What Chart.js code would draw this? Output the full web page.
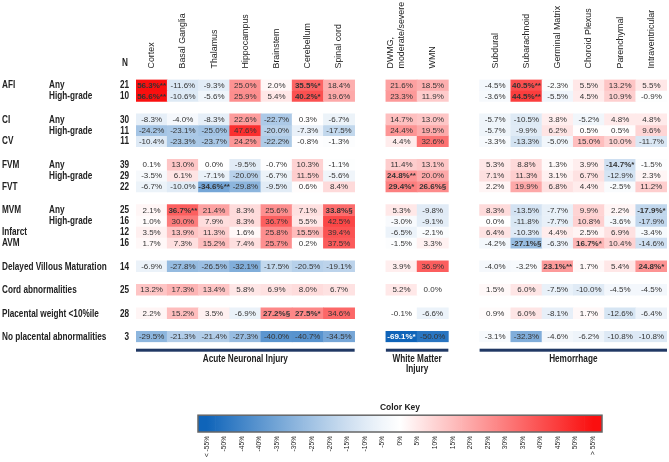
<!DOCTYPE html>
<html>
<head>
<meta charset="utf-8">
<script src="https://cdn.jsdelivr.net/npm/chart.js@4.4.1/dist/chart.umd.min.js"></script>
<style>
  html, body { margin: 0; padding: 0; background: #fff; }
  #wrap { position: relative; width: 669px; height: 462px; overflow: hidden; }
  #heat { position: absolute; left: 0; top: 0; }
  #key { position: absolute; left: 0; top: 395px; }
</style>
</head>
<body>
<div id="wrap">
  <canvas id="heat" width="669" height="395"></canvas>
  <canvas id="key" width="669" height="67"></canvas>
</div>
<script>
// colunas (rótulos do cabeçalho)
const acuteCols = ['Cortex', 'Basal Ganglia', 'Thalamus', 'Hippocampus', 'Brainstem', 'Cerebellum', 'Spinal cord'];
const whiteCols = ['DWMG', 'WMN'];
const hemCols = ['Subdural', 'Subarachnoid', 'Germinal Matrix', 'Choroid Plexus', 'Parenchymal', 'Intraventricular'];

// linhas
const rowGroups = ['AFI', '', 'CI', '', 'CV', 'FVM', '', 'FVT', 'MVM', '', 'Infarct', 'AVM',
  'Delayed Villous Maturation', 'Cord abnormalities', 'Placental weight <10%ile', 'No placental abnormalities'];
const rowSubs = ['Any', 'High-grade', 'Any', 'High-grade', '', 'Any', 'High-grade', '', 'Any', 'High-grade',
  '', '', '', '', '', ''];
const rowN = [21, 10, 30, 11, 11, 39, 29, 22, 25, 16, 12, 16, 14, 25, 28, 3];
const rowBlock = [0, 0, 1, 1, 1, 2, 2, 2, 3, 3, 3, 3, 4, 5, 6, 7];

// valores (%)
const acuteVals = [
  [56.3, -11.6, -9.3, 25.0, 2.0, 35.5, 18.4],
  [56.6, -10.6, -5.6, 25.9, 5.4, 40.2, 19.6],
  [-8.3, -4.0, -8.3, 22.6, -22.7, 0.3, -6.7],
  [-24.2, -23.1, -25.0, 47.6, -20.0, -7.3, -17.5],
  [-10.4, -23.3, -23.7, 24.2, -22.2, -0.8, -1.3],
  [0.1, 13.0, 0.0, -9.5, -0.7, 10.3, -1.1],
  [-3.5, 6.1, -7.1, -20.0, -6.7, 11.5, -5.6],
  [-6.7, -10.0, -34.6, -29.8, -9.5, 0.6, 8.4],
  [2.1, 36.7, 21.4, 8.3, 25.6, 7.1, 33.8],
  [1.0, 30.0, 7.9, 8.3, 36.7, 5.5, 42.5],
  [3.5, 13.9, 11.3, 1.6, 25.8, 15.5, 39.4],
  [1.7, 7.3, 15.2, 7.4, 25.7, 0.2, 37.5],
  [-6.9, -27.8, -26.5, -32.1, -17.5, -20.5, -19.1],
  [13.2, 17.3, 13.4, 5.8, 6.9, 8.0, 6.7],
  [2.2, 15.2, 3.5, -6.9, 27.2, 27.5, 34.6],
  [-29.5, -21.3, -21.4, -27.3, -40.0, -40.7, -34.5]
];
const whiteVals = [
  [21.6, 18.5], [23.3, 11.9], [14.7, 13.0], [24.4, 19.5], [4.4, 32.6], [11.4, 13.1],
  [24.8, 20.0], [29.4, 26.6], [5.3, -9.8], [-3.0, -9.1], [-6.5, -2.1], [-1.5, 3.3],
  [3.9, 36.9], [5.2, 0.0], [-0.1, -6.6], [-69.1, -50.0]
];
const hemVals = [
  [-4.5, 40.5, -2.3, 5.5, 13.2, 5.5],
  [-3.6, 44.5, -5.5, 4.5, 10.9, -0.9],
  [-5.7, -10.5, 3.8, -5.2, 4.8, 4.8],
  [-5.7, -9.9, 6.2, 0.5, 0.5, 9.6],
  [-3.3, -13.3, -5.0, 15.0, 10.0, -11.7],
  [5.3, 8.8, 1.3, 3.9, -14.7, -1.5],
  [7.1, 11.3, 3.1, 6.7, -12.9, 2.3],
  [2.2, 19.9, 6.8, 4.4, -2.5, 11.2],
  [8.3, -13.5, -7.7, 9.9, 2.2, -17.9],
  [0.0, -11.8, -7.7, 10.8, -3.6, -17.9],
  [6.4, -10.3, 4.4, 2.5, 6.9, -3.4],
  [-4.2, -27.1, -6.3, 16.7, 10.4, -14.6],
  [-4.0, -3.2, 23.1, 1.7, 5.4, 24.8],
  [1.5, 6.0, -7.5, -10.0, -4.5, -4.5],
  [0.9, 6.0, -8.1, 1.7, -12.6, -6.4],
  [-3.1, -32.3, -4.6, -6.2, -10.8, -10.8]
];

// significância: [linha, coluna, marca]
const sigMarks = [
  [0, 'Cortex', '**'], [0, 'Cerebellum', '*'], [0, 'Subarachnoid', '**'],
  [1, 'Cortex', '**'], [1, 'Cerebellum', '*'], [1, 'Subarachnoid', '**'],
  [5, 'Parenchymal', '*'],
  [6, 'DWMG', '**'],
  [7, 'Thalamus', '**'], [7, 'DWMG', '*'], [7, 'WMN', '§'],
  [8, 'Basal Ganglia', '**'], [8, 'Spinal cord', '§'], [8, 'Intraventricular', '*'],
  [11, 'Subarachnoid', '§'], [11, 'Choroid Plexus', '*'],
  [12, 'Germinal Matrix', '**'], [12, 'Intraventricular', '*'],
  [14, 'Brainstem', '§'], [14, 'Cerebellum', '*'],
  [15, 'DWMG', '*']
];

const keyLabels = ['< -55%', '-50%', '-45%', '-40%', '-35%', '-30%', '-25%', '-20%', '-15%', '-10%', '-5%',
  '0%', '5%', '10%', '15%', '20%', '25%', '30%', '35%', '40%', '45%', '50%', '> 55%'];
const keyValues = [-55, -50, -45, -40, -35, -30, -25, -20, -15, -10, -5, 0, 5, 10, 15, 20, 25, 30, 35, 40, 45, 50, 55];

const REG = '"Liberation Sans", Arial, sans-serif';
const HEAD_SIZE = 8.9;
const BLOCK_GAP = 1.15;

// colunas com espaços entre os grupos
const colKeys = [...acuteCols, '', ...whiteCols, '', ...hemCols];
const headerLabels = colKeys.map(k => k === 'DWMG' ? ['DWMG,', 'moderate/severe'] : k);

function rowValues(r) {
  return [...acuteVals[r], null, ...whiteVals[r], null, ...hemVals[r]];
}

function cellColor(v) {
  const t = Math.min(Math.abs(v) / 55, 1);
  let end, k;
  if (v < 0) { end = [15, 100, 185]; k = Math.pow(t, 1.2); }
  else { end = [250, 15, 15]; k = t; }
  const c = end.map(e => Math.round(255 + (e - 255) * k));
  return 'rgb(' + c.join(',') + ')';
}

// texto condensado (imita Arial Narrow)
function narrowText(ctx, text, x, y, align) {
  ctx.save();
  ctx.translate(x, y);
  ctx.scale(0.82, 1);
  ctx.textAlign = align;
  ctx.fillText(text, 0, 0);
  ctx.restore();
}

const rowPos = rowN.map((n, r) => r + rowBlock[r] * BLOCK_GAP);
const lastPos = rowPos[rowPos.length - 1];

const datasets = rowN.map((n, r) => {
  const vals = rowValues(r);
  return {
    label: (rowGroups[r] + ' ' + rowSubs[r]).trim(),
    values: vals,
    data: vals.map(v => v === null ? null : [rowPos[r] - 0.5, rowPos[r] + 0.5]),
    backgroundColor: vals.map(v => v === null ? 'rgba(0,0,0,0)' : cellColor(v)),
    borderWidth: 0,
    barPercentage: 1,
    categoryPercentage: 1,
    grouped: false
  };
});

function markFor(r, key) {
  const m = sigMarks.find(s => s[0] === r && s[1] === key);
  return m ? m[2] : '';
}

// textos das células
const cellText = {
  id: 'cellText',
  afterDatasetsDraw(chart) {
    const ctx = chart.ctx;
    ctx.save();
    ctx.textAlign = 'center';
    ctx.textBaseline = 'middle';
    chart.data.datasets.forEach((ds, r) => {
      const meta = chart.getDatasetMeta(r);
      ds.values.forEach((v, j) => {
        if (v === null) return;
        const bar = meta.data[j];
        const mark = markFor(r, colKeys[j]);
        ctx.font = (mark ? 'bold ' : '') + '8px ' + REG;
        ctx.fillStyle = v <= -55 ? '#fff' : '#333';
        ctx.fillText(v.toFixed(1) + '%' + mark, bar.x, (bar.y + bar.base) / 2 + 0.5);
      });
    });
    ctx.restore();
  }
};

// rótulos das linhas, N e grupos de colunas
const sideText = {
  id: 'sideText',
  afterDraw(chart) {
    const ctx = chart.ctx;
    const y = chart.scales.y;
    const x = chart.scales.x;
    ctx.save();
    ctx.fillStyle = '#222';
    ctx.textBaseline = 'middle';
    ctx.font = 'bold 10px ' + REG;
    rowN.forEach((n, r) => {
      const py = y.getPixelForValue(rowPos[r]) + 0.5;
      narrowText(ctx, rowGroups[r], 2, py, 'left');
      narrowText(ctx, rowSubs[r], 49, py, 'left');
      narrowText(ctx, String(n), 129, py, 'right');
    });
    narrowText(ctx, 'N', 125, 63, 'center');

    const half = (x.getPixelForValue(1) - x.getPixelForValue(0)) / 2;
    const groups = [
      { from: 'Cortex', to: 'Spinal cord', text: ['Acute Neuronal Injury'] },
      { from: 'DWMG', to: 'WMN', text: ['White Matter', 'Injury'] },
      { from: 'Subdural', to: 'Intraventricular', text: ['Hemorrhage'] }
    ];
    const top = chart.chartArea.bottom;
    groups.forEach(g => {
      const x0 = x.getPixelForValue(colKeys.indexOf(g.from)) - half;
      const x1 = x.getPixelForValue(colKeys.indexOf(g.to)) + half;
      ctx.fillStyle = '#203864';
      ctx.fillRect(x0, top + 6.5, x1 - x0, 3);
      ctx.fillStyle = '#222';
      g.text.forEach((t, i) => narrowText(ctx, t, (x0 + x1) / 2, top + 17.5 + i * 10, 'center'));
    });
    ctx.restore();
  }
};

new Chart(document.getElementById('heat'), {
  type: 'bar',
  data: { labels: headerLabels, datasets: datasets },
  options: {
    responsive: false,
    animation: false,
    layout: { padding: { left: 136, right: 2, top: 0, bottom: 52.8 } },
    plugins: { legend: { display: false }, tooltip: { enabled: false } },
    scales: {
      x: {
        position: 'top',
        grid: { display: false, drawTicks: false },
        border: { display: false },
        ticks: {
          autoSkip: false,
          minRotation: 90,
          maxRotation: 90,
          padding: 11,
          labelOffset: HEAD_SIZE * 1.2,
          color: '#222',
          font: { family: REG, size: HEAD_SIZE }
        },
        afterFit(scale) { scale.height = 79.5; }
      },
      y: {
        type: 'linear',
        display: false,
        reverse: true,
        min: -0.5,
        max: lastPos + 0.5
      }
    }
  },
  plugins: [cellText, sideText]
});

// legenda de cores
const keyBorder = {
  id: 'keyBorder',
  afterDatasetsDraw(chart) {
    const a = chart.chartArea;
    const ctx = chart.ctx;
    ctx.save();
    ctx.strokeStyle = '#666';
    ctx.lineWidth = 1.5;
    ctx.strokeRect(a.left, a.top, a.right - a.left, a.bottom - a.top);
    ctx.restore();
  }
};

new Chart(document.getElementById('key'), {
  type: 'bar',
  data: {
    labels: keyLabels,
    datasets: [{
      data: keyLabels.map(() => 1),
      borderWidth: 0,
      barPercentage: 1,
      categoryPercentage: 1,
      backgroundColor(context) {
        const chart = context.chart;
        const a = chart.chartArea;
        if (!a) return '#fff';
        const g = chart.ctx.createLinearGradient(a.left, 0, a.right, 0);
        g.addColorStop(0, cellColor(keyValues[0]));
        keyValues.forEach((v, i) => g.addColorStop((i + 0.5) / keyValues.length, cellColor(v)));
        g.addColorStop(1, cellColor(keyValues[keyValues.length - 1]));
        return g;
      }
    }]
  },
  options: {
    responsive: false,
    animation: false,
    layout: { padding: { left: 198, right: 67, top: 0, bottom: 0 } },
    plugins: {
      legend: { display: false },
      tooltip: { enabled: false },
      title: {
        display: true,
        text: 'Color Key',
        color: '#222',
        font: { family: REG, size: 8.5, weight: 'bold' },
        padding: { top: 8, bottom: 2 }
      }
    },
    scales: {
      x: {
        grid: { display: false, drawTicks: false },
        border: { display: false },
        ticks: {
          autoSkip: false,
          minRotation: 90,
          maxRotation: 90,
          padding: 4,
          color: '#222',
          font: { family: REG, size: 6.6 }
        },
        afterFit(scale) { scale.height = 30; }
      },
      y: { display: false, min: 0, max: 1 }
    }
  },
  plugins: [keyBorder]
});
</script>
</body>
</html>
